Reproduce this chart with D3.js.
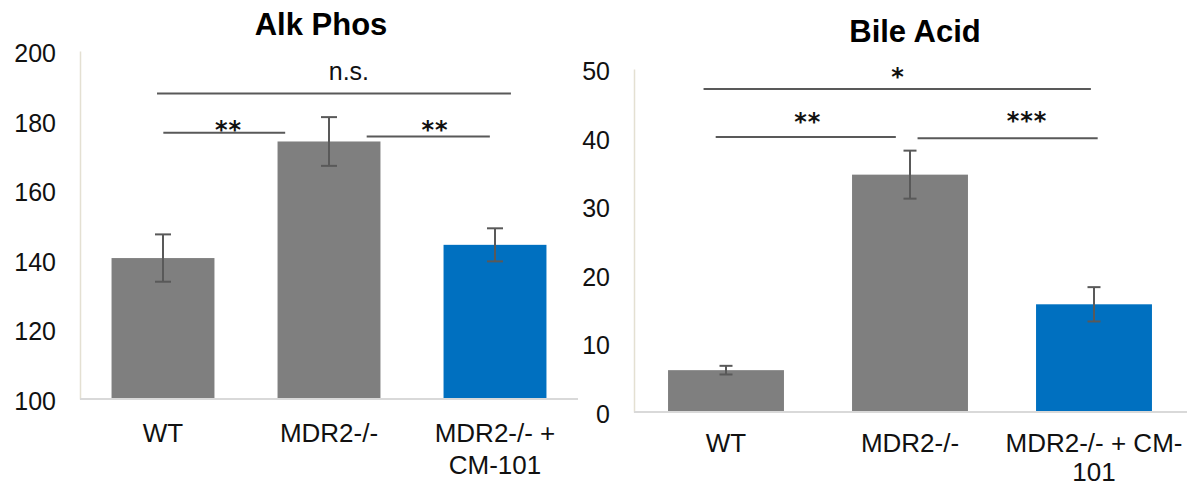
<!DOCTYPE html>
<html>
<head>
<meta charset="utf-8">
<script src="https://cdn.jsdelivr.net/npm/d3@7"></script>
<style>
  html, body { margin: 0; padding: 0; background: #fff; }
  svg { display: block; }
  text { font-family: "Liberation Sans", Arial, sans-serif; fill: #111; }
</style>
</head>
<body>
<svg id="chart" width="1187" height="486"></svg>
<script>
// ---- data ----
const categories = ["WT", "MDR2-/-", "MDR2-/- + CM-101"];
const barColors = ["#7f7f7f", "#7f7f7f", "#0070c0"];

const alkMeans = [140.5, 174.0, 144.3];
const alkErrors = [6.8, 7.0, 4.75];
const alkTicks = [100, 120, 140, 160, 180, 200];
const alkLabelLines = [["WT"], ["MDR2-/-"], ["MDR2-/- +", "CM-101"]];

const bileMeans = [6.1, 34.6, 15.7];
const bileErrors = [0.63, 3.5, 2.5];
const bileTicks = [0, 10, 20, 30, 40, 50];
const bileLabelLines = [["WT"], ["MDR2-/-"], ["MDR2-/- + CM-", "101"]];

// significance brackets: x in category-band units, y in axis units
const alkSig = [
  { label: "n.s.", x0: 0.464, x1: 2.596, lx: 1.62, y: 187.8, ly: 191.7 },
  { label: "**",   x0: 0.502, x1: 1.236, lx: 0.895, y: 176.5, ly: 175.1 },
  { label: "**",   x0: 1.727, x1: 2.469, lx: 2.139, y: 175.4, ly: 175.1 }
];
const bileSig = [
  { label: "*",   x0: 0.378, x1: 2.483, lx: 1.435, y: 47.1, ly: 47.7 },
  { label: "**",  x0: 0.444, x1: 1.423, lx: 0.945, y: 40.1, ly: 41.15 },
  { label: "***", x0: 1.541, x1: 2.520, lx: 2.136, y: 39.9, ly: 41.2 }
];

const svg = d3.select("#chart");

function drawChart(opt) {
  const g = svg.append("g");
  const x = d3.scaleBand()
    .domain(categories)
    .range([opt.left, opt.right])
    .paddingInner(opt.pad).paddingOuter(opt.pad / 2);
  const y = d3.scaleLinear().domain(opt.domain).range([opt.bottom, opt.top]);
  const bandStep = (opt.right - opt.left) / categories.length;
  const bx = v => opt.left + v * bandStep;

  // title
  g.append("text")
    .attr("x", opt.titleX).attr("y", opt.titleY)
    .attr("text-anchor", "middle")
    .style("font-size", "31px").style("font-weight", "bold")
    .style("fill", "#000")
    .text(opt.title);

  // bars
  g.selectAll("rect.bar").data(opt.means).join("rect")
    .attr("class", "bar")
    .attr("x", (d, i) => x(categories[i]))
    .attr("width", x.bandwidth())
    .attr("y", d => y(d))
    .attr("height", d => y(opt.domain[0]) - y(d))
    .attr("fill", (d, i) => barColors[i]);

  // y axis
  const yAxis = g.append("g")
    .attr("transform", `translate(${opt.left},0)`)
    .call(d3.axisLeft(y).tickValues(opt.ticks).tickSize(0).tickPadding(opt.tickPad));
  yAxis.select(".domain").attr("stroke", "#e4e0d2").attr("stroke-width", 1.5);
  yAxis.selectAll(".tick text")
    .style("font-size", "25px")
    .style("font-family", "'Liberation Sans', Arial, sans-serif")
    .attr("fill", "#111")
    .attr("dy", "0.42em");

  // x axis baseline
  g.append("line")
    .attr("x1", opt.left).attr("x2", opt.axisRight)
    .attr("y1", y(opt.domain[0])).attr("y2", y(opt.domain[0]))
    .attr("stroke", "#d9d9d9").attr("stroke-width", 2);

  // error bars
  const eb = g.selectAll("g.err").data(opt.means).join("g").attr("class", "err")
    .attr("stroke", "#595959").attr("stroke-width", 2);
  eb.append("line")
    .attr("x1", (d, i) => x(categories[i]) + x.bandwidth() / 2)
    .attr("x2", (d, i) => x(categories[i]) + x.bandwidth() / 2)
    .attr("y1", (d, i) => y(d + opt.errors[i]))
    .attr("y2", (d, i) => y(d - opt.errors[i]));
  [1, -1].forEach(s => {
    eb.append("line")
      .attr("x1", (d, i) => x(categories[i]) + x.bandwidth() / 2 - opt.cap / 2)
      .attr("x2", (d, i) => x(categories[i]) + x.bandwidth() / 2 + opt.cap / 2)
      .attr("y1", (d, i) => y(d + s * opt.errors[i]))
      .attr("y2", (d, i) => y(d + s * opt.errors[i]));
  });

  // category labels
  opt.labelLines.forEach((lines, i) => {
    const t = g.append("text")
      .attr("text-anchor", "middle")
      .style("font-size", "26px");
    lines.forEach((ln, j) => {
      t.append("tspan")
        .attr("x", x(categories[i]) + x.bandwidth() / 2)
        .attr("y", opt.labelY + j * opt.labelGap)
        .text(ln);
    });
  });

  // significance brackets
  opt.sig.forEach(s => {
    g.append("line")
      .attr("x1", bx(s.x0)).attr("x2", bx(s.x1))
      .attr("y1", y(s.y)).attr("y2", y(s.y))
      .attr("stroke", "#595959").attr("stroke-width", 2);
    const isStar = s.label.indexOf("*") >= 0;
    g.append("text")
      .attr("x", bx(s.lx)).attr("y", y(s.ly))
      .attr("text-anchor", "middle")
      .style("font-family", isStar ? "'DejaVu Sans', sans-serif" : "'Liberation Sans', Arial, sans-serif")
      .style("font-size", isStar ? "24px" : "25px")
      .style("font-weight", isStar ? "bold" : "normal")
      .style("letter-spacing", isStar ? "1px" : "0px")
      .text(s.label);
  });
}

drawChart({
  title: "Alk Phos", titleX: 321, titleY: 35,
  means: alkMeans, errors: alkErrors, ticks: alkTicks,
  domain: [100, 200], top: 51, bottom: 399,
  left: 80, right: 578, axisRight: 578, pad: 0.38,
  tickPad: 24, cap: 16,
  labelLines: alkLabelLines, labelY: 442, labelGap: 31.6,
  sig: alkSig
});

drawChart({
  title: "Bile Acid", titleX: 915, titleY: 42,
  means: bileMeans, errors: bileErrors, ticks: bileTicks,
  domain: [0, 50], top: 69, bottom: 412,
  left: 634, right: 1186, axisRight: 1187, pad: 0.37,
  tickPad: 24, cap: 13,
  labelLines: bileLabelLines, labelY: 452, labelGap: 28.5,
  sig: bileSig
});
</script>
</body>
</html>
